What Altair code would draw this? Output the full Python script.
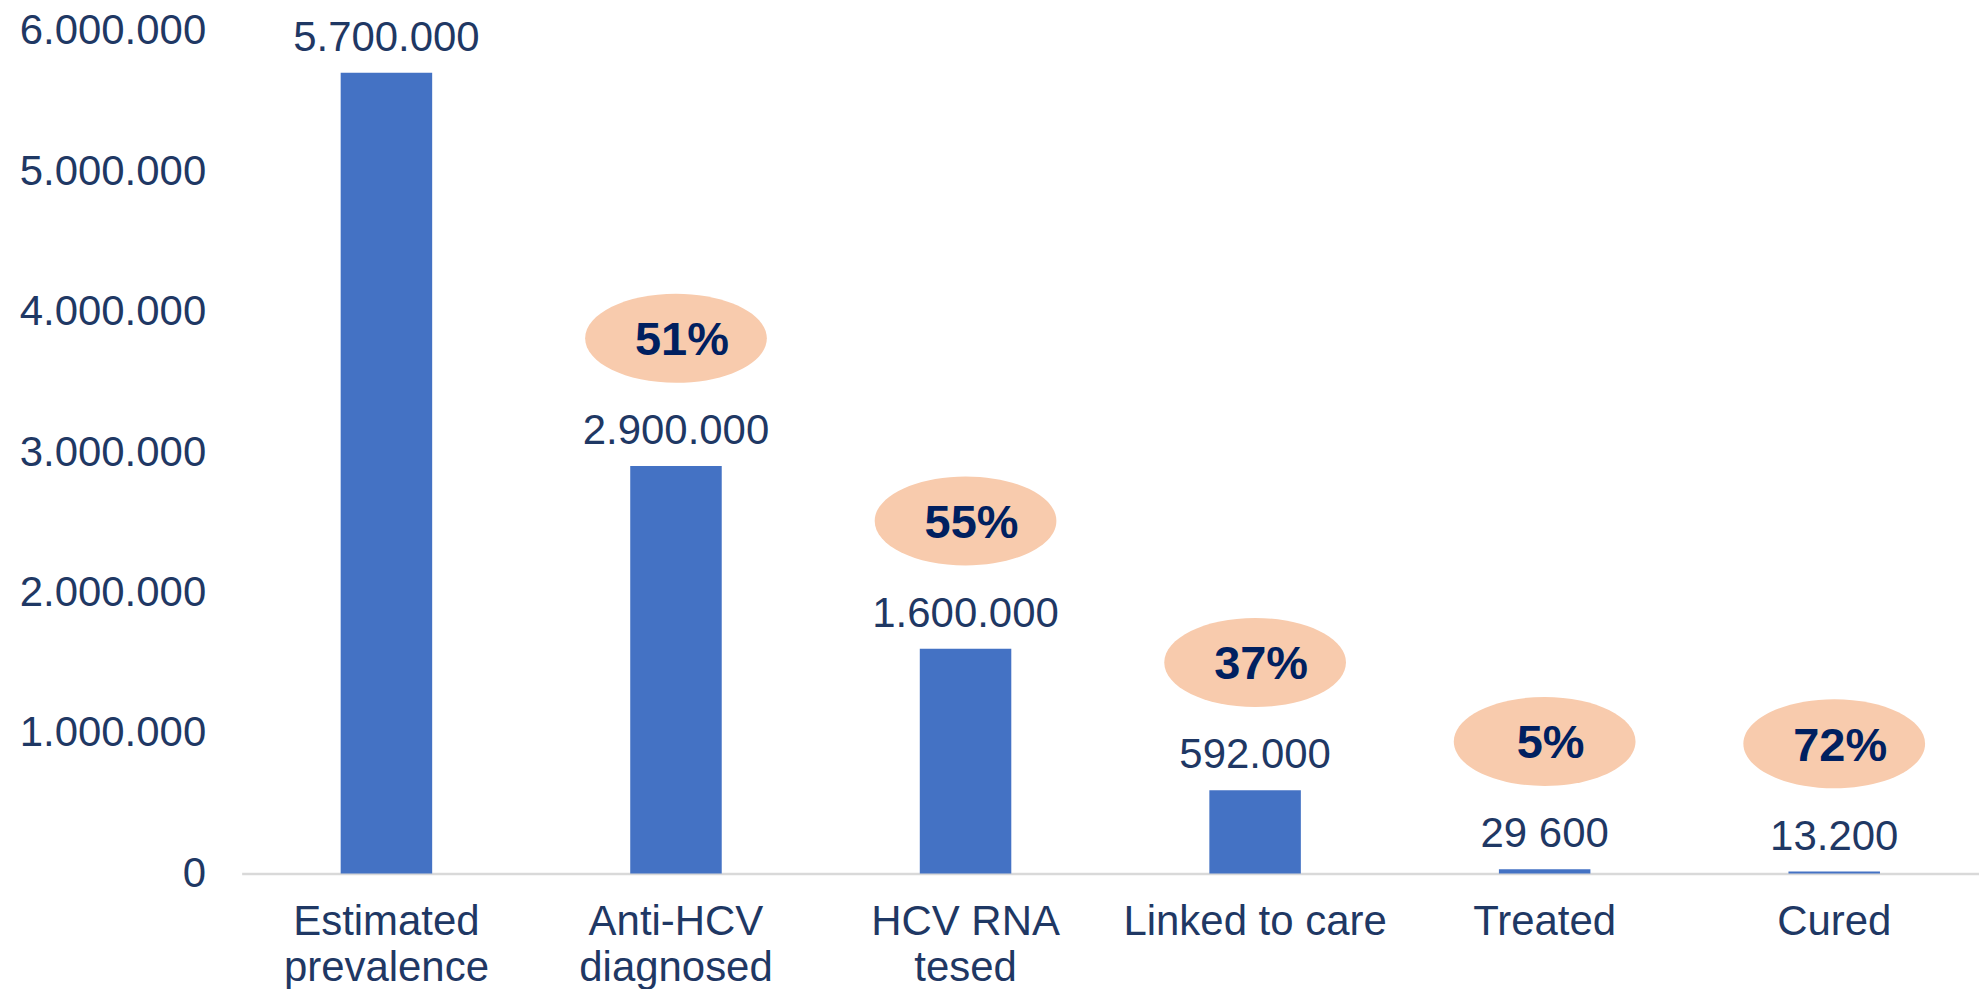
import altair as alt
import pandas as pd

categories = ["Estimated|prevalence", "Anti-HCV|diagnosed", "HCV RNA|tesed",
              "Linked to care", "Treated", "Cured"]
values = [5700000, 2900000, 1600000, 592000, 29600, 13200]
value_labels = ["5.700.000", "2.900.000", "1.600.000", "592.000", "29 600", "13.200"]
percent_labels = ["", "51%", "55%", "37%", "5%", "72%"]

df = pd.DataFrame({
    "cat": categories,
    "value": values,
    "vlabel": value_labels,
    "pct": percent_labels,
})

NAVY = "#1F3864"
DARK = "#002060"
FONT = "Liberation Sans"

x = alt.X("cat:N", sort=categories,
          scale=alt.Scale(paddingInner=0.684, paddingOuter=0.342),
          axis=alt.Axis(title=None, labelAngle=0, labelFontSize=42, labelColor=NAVY,
                        labelFont=FONT, labelPadding=28, labelLineHeight=46,
                        labelBaseline="top", ticks=False, domainColor="#D9D9D9",
                        domainWidth=2.5, labelLimit=0,
                        labelExpr="split(datum.label, '|')"))
y = alt.Y("value:Q", scale=alt.Scale(domain=[0, 6000000], nice=False),
          axis=alt.Axis(title=None, values=[0, 1000000, 2000000, 3000000, 4000000, 5000000, 6000000],
                        labelFontSize=42, labelColor=NAVY, labelFont=FONT,
                        labelPadding=36, ticks=False, domain=False, grid=False,
                        labelLimit=0,
                        labelExpr="replace(format(datum.value, ','), /,/g, '.')"))

base = alt.Chart(df)

bars = base.mark_bar(color="#4472C4").encode(x=x, y=y)

vtext = base.mark_text(fontSize=42, font=FONT, color=NAVY, baseline="middle", dy=-35).encode(
    x=x, y=y, text="vlabel:N")

pct_df = df[df["pct"] != ""]
ellipse = alt.Chart(pct_df).mark_point(
    shape="M -1 0 A 1 0.49 0 1 0 1 0 A 1 0.49 0 1 0 -1 0 Z",
    filled=True, color="#F8CBAD", opacity=1, size=182 * 182, strokeWidth=0
).encode(x=x, y=y, yOffset=alt.value(-128))

ptext = alt.Chart(pct_df).mark_text(fontSize=47, font=FONT, fontWeight="bold", color=DARK,
                                    baseline="middle", dy=-125, dx=6).encode(
    x=x, y=y, text="pct:N")

chart = alt.layer(bars, vtext, ellipse, ptext).properties(
    width=1740, height=844,
    autosize=alt.AutoSizeParams(type="none"),
    padding={"left": 234, "top": 22, "right": 0, "bottom": 115},
).configure_view(strokeWidth=0)

chart.save("out.html", embed_options={"renderer": "svg", "actions": False})
